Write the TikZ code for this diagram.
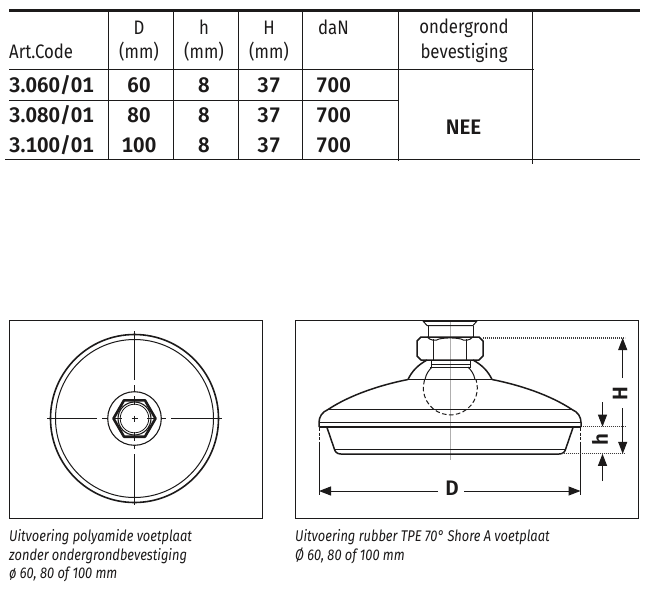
\documentclass[tikz,border=0pt]{standalone}
\usepackage{fontspec}
\setmainfont[FakeStretch=0.86,ItalicFont={Fira Sans Italic},ItalicFeatures={FakeStretch=0.83},BoldFont={Fira Sans SemiBold},BoldFeatures={FakeStretch=0.98,Numbers=Monospaced}]{Fira Sans}
\usetikzlibrary{arrows.meta}
\definecolor{ink}{HTML}{1C1A1A}
\tikzset{
  rulethin/.style={draw=ink,line width=1pt},
  thickrule/.style={draw=ink,line width=3pt},
  midrule/.style={draw=ink,line width=1.8pt},
  hd/.style={anchor=base,text=ink,font=\fontsize{19.5}{20}\selectfont,inner sep=0pt},
  hdl/.style={hd,anchor=base west},
  val/.style={anchor=base,text=ink,font=\fontsize{21}{21}\bfseries\selectfont,inner sep=0pt},
  vall/.style={val,anchor=base west},
  captext/.style={anchor=base west,text=ink,font=\fontsize{15.5}{16}\itshape\selectfont,inner sep=0pt},
  boxframe/.style={draw=ink,line width=1pt},
  partline/.style={draw=ink,line width=1pt,line join=round},
  heavy/.style={draw=ink,line width=1.5pt,line join=round},
  centreline/.style={draw=ink,line width=0.9pt},
  dotline/.style={draw=ink!85,line width=1.1pt,dash pattern=on 1.2pt off 0.8pt},
  dimln/.style={draw=ink,line width=1pt},
  dimtip/.style={-{Triangle[length=12pt,width=9pt]}},
  dimlab/.style={text=ink,font=\fontsize{21}{21}\bfseries\selectfont,inner sep=0pt},
}
\begin{document}
\begin{tikzpicture}[x=1pt,y=-1pt]
\useasboundingbox (0,0) rectangle (650,600);
\fill[white] (0,0) rectangle (650,600);
% ---------- table rules
\draw[rulethin] (108.5,11) -- (108.5,159);
\draw[rulethin] (173.5,11) -- (173.5,159);
\draw[rulethin] (238.5,11) -- (238.5,159);
\draw[rulethin] (302.5,11) -- (302.5,159);
\draw[rulethin] (398,11) -- (398,161);
\draw[rulethin] (532.5,11) -- (532.5,163.5);
\draw[thickrule] (9,10.5) -- (640,10.5);
\draw[rulethin] (9,69.5) -- (533.5,69.5);
\draw[rulethin] (9,100.5) -- (398,100.5);
\draw[midrule] (5,159.5) -- (398,159.5);
\draw[rulethin] (398,159.5) -- (640,159.5);
% ---------- header
\node[hdl] (hArt) at (9,58) {Art.Code};
\node[hd] (hD) at (139,34) {D};
\node[hd] (hDu) at (139,58) {(mm)};
\node[hd] (hh) at (204,34) {h};
\node[hd] (hhu) at (204,58) {(mm)};
\node[hd] (hH) at (269,34) {H};
\node[hd] (hHu) at (269,58) {(mm)};
\node[hd] (hN) at (333.5,34) {daN};
\node[hd] (hO1) at (464,33) {ondergrond};
\node[hd] (hO2) at (464,58) {bevestiging};
% ---------- rows
\node[vall] (a1) at (9,92.5) {3.060/01};
\node[val] (d1) at (139,92.5) {60};
\node[val] (s1) at (204,92.5) {8};
\node[val] (t1) at (269,92.5) {37};
\node[val] (n1) at (333.5,92.5) {700};
\node[vall] (a2) at (9,122.5) {3.080/01};
\node[val] (d2) at (139,122.5) {80};
\node[val] (s2) at (204,122.5) {8};
\node[val] (t2) at (269,122.5) {37};
\node[val] (n2) at (333.5,122.5) {700};
\node[vall] (a3) at (9,152.5) {3.100/01};
\node[val] (d3) at (139,152.5) {100};
\node[val] (s3) at (204,152.5) {8};
\node[val] (t3) at (269,152.5) {37};
\node[val] (n3) at (333.5,152.5) {700};
\node[val] (nee) at (463.5,134.5) {NEE};
% ---------- left drawing
\draw[boxframe] (9.5,320.5) rectangle (262.5,518.5);
\draw[draw=ink,line width=1.6pt] (134.5,418.5) circle (84);
\draw[partline] (134.5,418.5) circle (79);
\draw[partline,line width=1.1pt] (134.5,418.5) circle (26.8);
\draw[draw=ink,line width=2.6pt,line join=round] (155.5,418.5) -- (145,400.3) -- (124,400.3) -- (113.5,418.5) -- (124,436.7) -- (145,436.7) -- cycle;
\draw[partline,line width=1.1pt] (134.5,418.5) circle (16.5);
\draw[partline,line width=.8pt] (134.5,418.5) circle (14.3);
\draw[centreline] (47,418.5) -- (97,418.5) (102,418.5) -- (107,418.5) (113,418.5) -- (122,418.5) (131.5,418.5) -- (137.5,418.5) (147,418.5) -- (156,418.5) (162,418.5) -- (166,418.5) (171,418.5) -- (222,418.5);
\draw[centreline] (134.5,331) -- (134.5,380) (134.5,385) -- (134.5,391) (134.5,396) -- (134.5,405) (134.5,415.5) -- (134.5,421.5) (134.5,432) -- (134.5,441) (134.5,446) -- (134.5,449) (134.5,454) -- (134.5,505);
% ---------- right drawing
\draw[boxframe] (295.5,320.5) rectangle (638,518.5);
\draw[draw=ink!35,line width=.6pt] (450.3,321) -- (450.3,460);
% stud
\draw[heavy] (423,321) -- (477,321);
\draw[partline] (423,321) -- (427,325.5) -- (473,325.5) -- (477,321);
\draw[partline] (428,325.5) -- (428,336.5) (473,325.5) -- (473,336.5);
% nut
\draw[heavy] (421,337) -- (479,337) -- (483,341) -- (483,356) -- (479,360) -- (421,360) -- (417,356) -- (417,341) -- cycle;
\draw[partline] (433.5,339) -- (433.5,360) (466.5,339) -- (466.5,360);
\draw[partline] (427,337) .. controls (431,341) and (436,341) .. (439,339) .. controls (447,337.5) and (453,337.5) .. (461,339) .. controls (464,341) and (469,341) .. (473,337);
% collar
\draw[partline] (431.5,360) -- (431.5,366.5) (470,360) -- (470,366.5);
\draw[partline] (431.5,364.5) -- (470,364.5);
\draw[partline] (430,367) -- (471,367);
% dome
\draw[heavy] (408,379.5) .. controls (412,371) and (418,365) .. (427,360);
\draw[heavy] (492,379.5) .. controls (488,371) and (482,365) .. (473,360);
\draw[partline] (425,379.5) .. controls (426,374) and (429,370) .. (432,367);
\draw[partline] (475,379.5) .. controls (474,374) and (471,370) .. (468,367);
\draw[partline] (408,379.5) -- (492,379.5);
% ball
\draw[partline,dash pattern=on 4.5pt off 2.5pt] (424.5,380) arc[start angle=197,end angle=-17,radius=27];
% body
\draw[heavy] (408,379.5) .. controls (380,385) and (350,395) .. (328,409.5) .. controls (322,412) and (319,417) .. (319,422.5) -- (319,427);
\draw[heavy] (492,379.5) .. controls (520,385) and (550,395) .. (572,409.5) .. controls (578,412) and (581,417) .. (581,422.5) -- (581,427);
\draw[partline] (328,409.5) -- (572,409.5);
\draw[heavy] (319,422.5) -- (581,422.5);
\draw[draw=ink,line width=1.8pt] (319,427) -- (581,427);
% base
\draw[heavy] (327,427.5) -- (334,448) .. controls (335,452) and (337,454) .. (341,454) -- (559,454) .. controls (563,454) and (565,452) .. (566,448) -- (573,427.5);
\draw[partline] (335,449.5) -- (565,449.5);
% extension lines
\coordinate (Dl) at (319,491);
\coordinate (Dr) at (580.5,491);
\draw[partline,dash pattern=on 3pt off 1.5pt] (319,428) -- (319,443);
\draw[partline] (319,443) -- (319,495);
\draw[partline,dash pattern=on 3pt off 1.5pt] (580.5,428) -- (580.5,443);
\draw[partline] (580.5,443) -- (580.5,495);
% dotted levels
\draw[dotline] (483,338) -- (625,338);
\draw[dotline] (582.5,426.7) -- (625,426.7);
\draw[dotline] (561.5,453.8) -- (625,453.8);
% D
\node[dimlab] (lD) at (452,488.5) {D};
\draw[dimln,dimtip] (438,491) -- (Dl);
\draw[dimln,dimtip] (464,491) -- (Dr);
% H
\node[dimlab,rotate=90] (lH) at (620,394) {H};
\coordinate (Ht) at (622.7,338);
\coordinate (Hb) at (622.7,453.8);
\draw[dimln,dimtip] (622.7,378) -- (Ht);
\draw[dimln,dimtip] (622.7,408) -- (Hb);
% h
\node[dimlab,rotate=90] (lh) at (600,439.5) {h};
\coordinate (ht) at (602.5,426.7);
\coordinate (hb) at (602.5,453.8);
\draw[dimln,dimtip] (602.5,402) -- (ht);
\draw[dimln,dimtip] (602.5,481) -- (hb);
% ---------- captions
\node[captext] (c1) at (9,541.5) {Uitvoering polyamide voetplaat};
\node[captext] (c2) at (9,560.5) {zonder ondergrondbevestiging};
\node[captext] (c3) at (9,578.5) {ø 60, 80 of 100 mm};
\node[captext] (c4) at (295,541.5) {Uitvoering rubber TPE 70° Shore A voetplaat};
\node[captext] (c5) at (295,560.5) {Ø 60, 80 of 100 mm};
\end{tikzpicture}
\end{document}
